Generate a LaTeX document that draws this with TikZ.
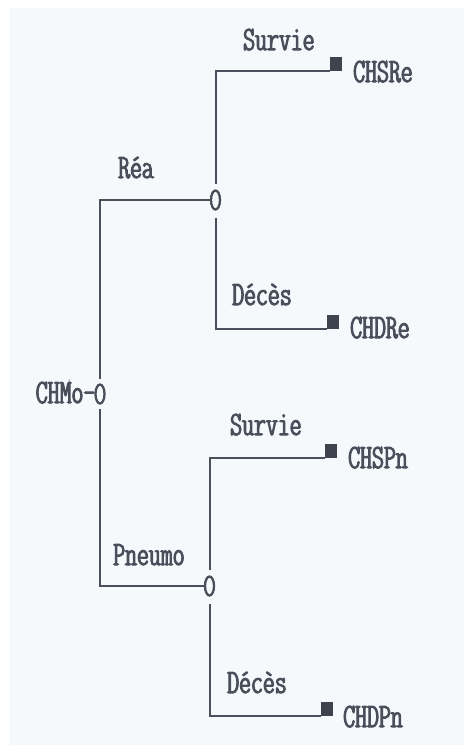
\documentclass[tikz,border=0pt]{standalone}
\usepackage{fontspec}
\usetikzlibrary{shapes.geometric}
% condensed typewriter face for all labels
\newfontfamily\typefont[FakeBold=3]{lmmonoltcond10-regular.otf}
\definecolor{ink}{HTML}{4A4F5C}
\definecolor{paper}{HTML}{F6F9FC}
\tikzset{
  lbl/.style={anchor=base west, inner sep=0pt, text=ink,
              font=\typefont\fontsize{34}{36}\selectfont},
  chance/.style={ellipse, draw=ink, line width=2.3pt, minimum width=9pt,
                 minimum height=19pt, inner sep=0pt, outer sep=0pt},
  leaf/.style={rectangle, fill=ink!85!black, minimum width=12pt,
               minimum height=14pt, inner sep=0pt, outer sep=0pt, anchor=south west},
  branch/.style={draw=ink, line width=2pt},
}
\begin{document}
\begin{tikzpicture}[x=1pt,y=-1pt]
% sheet
\fill[white] (0,0) rectangle (464,745);
\fill[paper] (10,8) rectangle (464,745);
\useasboundingbox (0,0) rectangle (464,745);

% chance nodes
\node[chance] (c0) at (100,394) {};
\node[chance] (c1) at (215.5,200) {};
\node[chance] (c2) at (209.5,586) {};

% terminal nodes
\node[leaf] (t1) at (330,71) {};
\node[leaf] (t2) at (327,329) {};
\node[leaf] (t3) at (325,458) {};
\node[leaf] (t4) at (321,716) {};

% branches
\draw[branch, shorten <=6pt] (c0.north) |- (c1.west);
\draw[branch, shorten <=5pt] (c0.south) |- (c2.west);
\draw[branch, shorten <=7pt] (c1.north) |- (t1.south west);
\draw[branch, shorten <=8pt] (c1.south) |- (t2.south west);
\draw[branch, shorten <=7pt] (c2.north) |- (t3.south west);
\draw[branch, shorten <=8pt] (c2.south) |- (t4.south west);

% labels
\node[lbl, anchor=base east] (root) at (95.5,403) {CHMo-};
\node[lbl] (rea)  at (118,178) {Réa};
\node[lbl] (pneu) at (113,565) {Pneumo};
\node[lbl] (s1)   at (243,50)  {Survie};
\node[lbl] (d1)   at (232,305) {Décès};
\node[lbl] (s2)   at (230,435) {Survie};
\node[lbl] (d2)   at (227,693) {Décès};
\node[lbl] (o1)   at (353,82)  {CHSRe};
\node[lbl] (o2)   at (350,338) {CHDRe};
\node[lbl] (o3)   at (348,468) {CHSPn};
\node[lbl] (o4)   at (343,727) {CHDPn};
\end{tikzpicture}
\end{document}
